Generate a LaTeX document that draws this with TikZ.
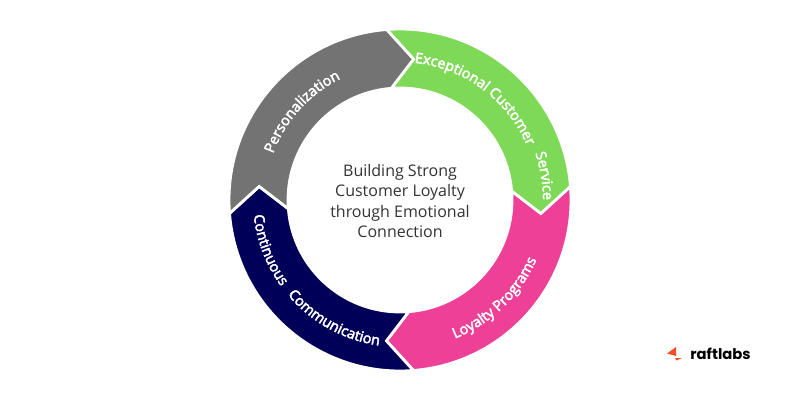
\documentclass[tikz,border=0pt]{standalone}
\usepackage{fontspec}
\setmainfont{Open Sans}
\newfontfamily\logofont{Poppins}
\newfontfamily\arcfont[FakeBold=3]{Open Sans}
\usetikzlibrary{decorations.text}
\definecolor{grayseg}{HTML}{737373}
\definecolor{greenseg}{HTML}{7ED957}
\definecolor{pinkseg}{HTML}{EE4096}
\definecolor{navyseg}{HTML}{000058}
\definecolor{logoorange}{HTML}{F04E23}
\definecolor{centertext}{HTML}{333333}
\tikzset{
	seg/.style={draw=white,line width=1.6pt,line join=miter},
	arctext/.style={decorate,decoration={text along path,text align=center,text color=white,
		text={|\arcfont\fontsize{8.2}{10}\selectfont|#1}}},
}
% one ring piece: start angle, end angle (clockwise), colour
\newcommand{\ringseg}[3]{
	\fill[#3,seg] (#1:171)  arc (#1:#2:171)
		-- ({#2-10}:141.5) -- (#2:112) arc (#2:#1:112)
		-- ({#1-10}:141.5) -- cycle;
}
\begin{document}
\begin{tikzpicture}[>=stealth,x=0.02cm,y=0.02cm]
	\useasboundingbox (0,0) rectangle (800,400);
	\begin{scope}[shift={(400,200)}]
		\ringseg{94.5}{4.5}{greenseg}
		\ringseg{4.5}{-85.5}{pinkseg}
		\ringseg{-85.5}{-175.5}{navyseg}
		\ringseg{-175.5}{-265.5}{grayseg}
		% labels on the ring
		\path[arctext={Personalization}] (170:135) arc (170:106:135);
		\path[arctext={Exceptional Customer}] (91:138) arc (91:16:138);
		\path[arctext={Service}] (28:143) arc (28:-9:143);
		\path[arctext={Loyalty Programs}] (-78:149) arc (-78:-14:149);
		\path[arctext={Continuous}] (178:147) arc (178:224:147);
		\path[arctext={Communication}] (214:147) arc (214:268:147);
		\node[text=centertext,align=center,font=\fontsize{9.1}{11.6}\selectfont] (title) at (0,-1) {Building Strong\\Customer Loyalty\\through Emotional\\Connection};
	\end{scope}
	% logo
	\fill[logoorange] (676,53) -- (667,46.5) -- (676,44) -- cycle;
	\fill[logoorange] (675,42) -- (682,42) -- (676.5,39.5) -- cycle;
	\node[anchor=west,inner sep=0pt,font=\logofont\fontsize{8.4}{10}\selectfont\bfseries,text=black] (logo) at (690,46) {raftlabs};
\end{tikzpicture}
\end{document}
